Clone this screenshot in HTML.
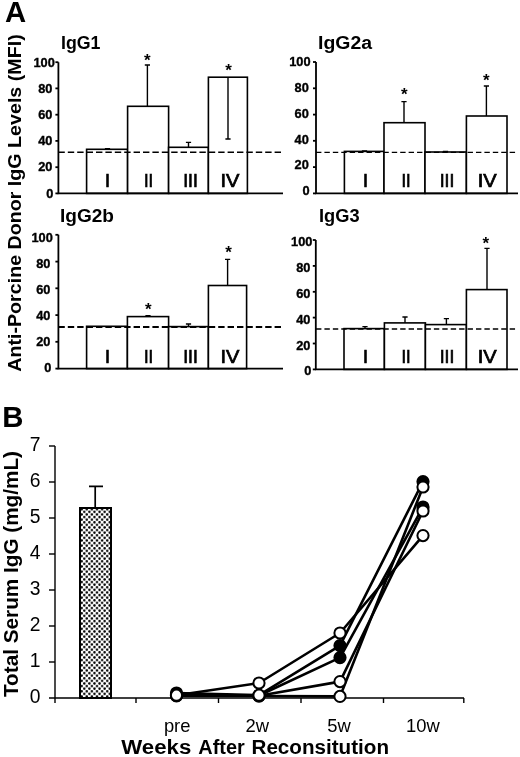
<!DOCTYPE html>
<html><head><meta charset="utf-8"><title>Figure</title>
<style>
html,body{margin:0;padding:0;background:#fff;}
body{width:520px;height:757px;overflow:hidden;}
svg{display:block;}
text{font-family:"Liberation Sans",sans-serif;fill:#000;}
.b{font-weight:bold;}
.rn{stroke:#000;stroke-width:0.7;}
.ax{stroke:#000;stroke-width:1.8;fill:none;}
.axb{stroke:#000;stroke-width:1.4;fill:none;}
.bar{stroke:#000;stroke-width:1.6;fill:#fff;}
.err{stroke:#000;stroke-width:1.4;fill:none;}
.dash{stroke:#000;stroke-width:1.4;stroke-dasharray:5.4 3.2;fill:none;}
.ln{stroke:#000;stroke-width:2.6;fill:none;stroke-linejoin:round;}
.oc{stroke:#000;stroke-width:2;fill:#fff;}
.fc{stroke:#000;stroke-width:2;fill:#000;}
</style></head><body>
<svg width="520" height="757" viewBox="0 0 520 757">
<defs>
<pattern id="dots" width="5.1" height="5.2" patternUnits="userSpaceOnUse" x="80.4" y="508">
<rect width="5.1" height="5.2" fill="#fff"/>
<circle cx="1.3" cy="1.3" r="1.22" fill="#000"/>
<circle cx="3.85" cy="3.9" r="1.22" fill="#000"/>
</pattern>
</defs>
<rect width="520" height="757" fill="#fff"/>

<text class="b" x="5" y="22" font-size="29.3">A</text>
<text class="b" x="2.2" y="427" font-size="29.3">B</text>
<text class="b" transform="translate(21.4,371.8) rotate(-90)" font-size="18" textLength="337.5" lengthAdjust="spacingAndGlyphs">Anti-Porcine Donor IgG Levels (MFI)</text>
<text class="b" x="61" y="49" font-size="18" textLength="39.5" lengthAdjust="spacingAndGlyphs">IgG1</text>
<rect class="bar" x="86.6" y="149.3" width="41.0" height="44.1"/>
<rect class="bar" x="127.6" y="106.3" width="41.0" height="87.1"/>
<rect class="bar" x="168.6" y="147.3" width="39.8" height="46.1"/>
<rect class="bar" x="208.4" y="77.2" width="39.0" height="116.2"/>
<path class="dash" style="stroke-width:1.6;stroke-dasharray:6.4 3" d="M58.4 152.3H284"/>
<path class="err" d="M107.5 149.3V148.6M104.9 148.6H110.1"/>
<text class="rn" x="107.4" y="187" font-size="18" text-anchor="middle">I</text>
<path class="err" d="M147.4 106.3V65M144.8 65H150.0"/>
<text class="b" x="147.4" y="65.8" font-size="17" text-anchor="middle">*</text>
<text class="rn" x="148.5" y="187" font-size="18" text-anchor="middle" textLength="9.2" lengthAdjust="spacingAndGlyphs">II</text>
<path class="err" d="M188.5 147.3V142.4M185.9 142.4H191.1"/>
<text class="rn" x="190.5" y="187" font-size="18" text-anchor="middle" textLength="14.6" lengthAdjust="spacingAndGlyphs">III</text>
<path class="err" d="M228 77.2V139M225.4 139H230.6"/>
<text class="b" x="228.6" y="76.2" font-size="17" text-anchor="middle">*</text>
<text class="rn" x="230" y="187" font-size="18" text-anchor="middle" textLength="19" lengthAdjust="spacingAndGlyphs">IV</text>
<path class="ax" d="M58.4 62.2V193.4H283"/>
<path class="ax" d="M55.4 193.4H58.4"/>
<text class="b" x="53.3" y="197.6" font-size="12.8" text-anchor="end" stroke="#000" stroke-width="0.35">0</text>
<path class="ax" d="M55.4 167.2H58.4"/>
<text class="b" x="52.4" y="171.4" font-size="12.8" text-anchor="end" stroke="#000" stroke-width="0.35">20</text>
<path class="ax" d="M55.4 140.9H58.4"/>
<text class="b" x="52.4" y="145.3" font-size="12.8" text-anchor="end" stroke="#000" stroke-width="0.35">40</text>
<path class="ax" d="M55.4 114.7H58.4"/>
<text class="b" x="52.4" y="119.1" font-size="12.8" text-anchor="end" stroke="#000" stroke-width="0.35">60</text>
<path class="ax" d="M55.4 88.4H58.4"/>
<text class="b" x="52.4" y="93.0" font-size="12.8" text-anchor="end" stroke="#000" stroke-width="0.35">80</text>
<path class="ax" d="M55.4 62.2H58.4"/>
<text class="b" x="54.8" y="66.8" font-size="12.8" text-anchor="end" stroke="#000" stroke-width="0.35">100</text>
<text class="b" x="318" y="49" font-size="18" textLength="54" lengthAdjust="spacingAndGlyphs">IgG2a</text>
<rect class="bar" x="344.4" y="151.4" width="39.6" height="42.0"/>
<rect class="bar" x="384" y="122.7" width="41.0" height="70.7"/>
<rect class="bar" x="425" y="152.0" width="41.4" height="41.4"/>
<rect class="bar" x="466.4" y="116.0" width="40.6" height="77.4"/>
<path class="dash" style="stroke-width:1.4;stroke-dasharray:5.4 3.02" d="M316 152.4H518"/>
<path class="err" d="M364.5 151.4V151M361.9 151H367.1"/>
<text class="rn" x="365.6" y="187" font-size="18" text-anchor="middle">I</text>
<path class="err" d="M404 122.7V101.6M401.4 101.6H406.6"/>
<text class="b" x="404.4" y="100.2" font-size="17" text-anchor="middle">*</text>
<text class="rn" x="406" y="187" font-size="18" text-anchor="middle" textLength="9.2" lengthAdjust="spacingAndGlyphs">II</text>
<path class="err" d="M445.5 152.0V151.5M442.9 151.5H448.1"/>
<text class="rn" x="447" y="187" font-size="18" text-anchor="middle" textLength="14.6" lengthAdjust="spacingAndGlyphs">III</text>
<path class="err" d="M486.4 116.0V86M483.79999999999995 86H489.0"/>
<text class="b" x="486.4" y="85.8" font-size="17" text-anchor="middle">*</text>
<text class="rn" x="487.2" y="187" font-size="18" text-anchor="middle" textLength="19" lengthAdjust="spacingAndGlyphs">IV</text>
<path class="ax" d="M316 62V193.4H518"/>
<path class="ax" d="M313 193.4H316"/>
<text class="b" x="309.7" y="195.2" font-size="12.8" text-anchor="end" stroke="#000" stroke-width="0.35">0</text>
<path class="ax" d="M313 167.1H316"/>
<text class="b" x="308.8" y="169.4" font-size="12.8" text-anchor="end" stroke="#000" stroke-width="0.35">20</text>
<path class="ax" d="M313 140.8H316"/>
<text class="b" x="308.8" y="143.6" font-size="12.8" text-anchor="end" stroke="#000" stroke-width="0.35">40</text>
<path class="ax" d="M313 114.6H316"/>
<text class="b" x="308.8" y="117.9" font-size="12.8" text-anchor="end" stroke="#000" stroke-width="0.35">60</text>
<path class="ax" d="M313 88.3H316"/>
<text class="b" x="308.8" y="92.1" font-size="12.8" text-anchor="end" stroke="#000" stroke-width="0.35">80</text>
<path class="ax" d="M313 62.0H316"/>
<text class="b" x="310.6" y="66.3" font-size="12.8" text-anchor="end" stroke="#000" stroke-width="0.35">100</text>
<text class="b" x="60" y="222" font-size="18" textLength="54" lengthAdjust="spacingAndGlyphs">IgG2b</text>
<rect class="bar" x="86.6" y="326.3" width="40.8" height="42.3"/>
<rect class="bar" x="127.4" y="316.6" width="41.2" height="52.0"/>
<rect class="bar" x="168.6" y="326.6" width="39.8" height="42.0"/>
<rect class="bar" x="208.4" y="285.5" width="38.2" height="83.1"/>
<path class="dash" style="stroke-width:2.0;stroke-dasharray:6.4 3" d="M58.4 327.0H284"/>
<text class="rn" x="107.4" y="363" font-size="18" text-anchor="middle">I</text>
<path class="err" d="M148 316.6V315.6M145.4 315.6H150.6"/>
<text class="b" x="148.4" y="315.2" font-size="17" text-anchor="middle">*</text>
<text class="rn" x="148.5" y="363" font-size="18" text-anchor="middle" textLength="9.2" lengthAdjust="spacingAndGlyphs">II</text>
<path class="err" d="M188.5 326.6V324M185.9 324H191.1"/>
<text class="rn" x="190.5" y="363" font-size="18" text-anchor="middle" textLength="14.6" lengthAdjust="spacingAndGlyphs">III</text>
<path class="err" d="M227.6 285.5V259.4M225.0 259.4H230.2"/>
<text class="b" x="228.6" y="258.2" font-size="17" text-anchor="middle">*</text>
<text class="rn" x="230" y="363" font-size="18" text-anchor="middle" textLength="19" lengthAdjust="spacingAndGlyphs">IV</text>
<path class="ax" d="M58.4 234.8V368.6H283"/>
<path class="ax" d="M55.4 368.6H58.4"/>
<text class="b" x="51.3" y="371.6" font-size="12.8" text-anchor="end" stroke="#000" stroke-width="0.35">0</text>
<path class="ax" d="M55.4 341.8H58.4"/>
<text class="b" x="50.4" y="345.6" font-size="12.8" text-anchor="end" stroke="#000" stroke-width="0.35">20</text>
<path class="ax" d="M55.4 315.1H58.4"/>
<text class="b" x="50.4" y="319.7" font-size="12.8" text-anchor="end" stroke="#000" stroke-width="0.35">40</text>
<path class="ax" d="M55.4 288.3H58.4"/>
<text class="b" x="50.4" y="293.7" font-size="12.8" text-anchor="end" stroke="#000" stroke-width="0.35">60</text>
<path class="ax" d="M55.4 261.6H58.4"/>
<text class="b" x="50.4" y="267.8" font-size="12.8" text-anchor="end" stroke="#000" stroke-width="0.35">80</text>
<path class="ax" d="M55.4 234.8H58.4"/>
<text class="b" x="52.8" y="241.8" font-size="12.8" text-anchor="end" stroke="#000" stroke-width="0.35">100</text>
<text class="b" x="319" y="222" font-size="18" textLength="40.6" lengthAdjust="spacingAndGlyphs">IgG3</text>
<rect class="bar" x="344" y="328.6" width="40.4" height="40.8"/>
<rect class="bar" x="384.4" y="322.9" width="41.0" height="46.5"/>
<rect class="bar" x="425.4" y="324.6" width="41.0" height="44.8"/>
<rect class="bar" x="466.4" y="289.6" width="40.6" height="79.8"/>
<path class="dash" style="stroke-width:1.6;stroke-dasharray:5.4 3.02" d="M316 329.0H518"/>
<path class="err" d="M365 328.6V326.6M362.4 326.6H367.6"/>
<text class="rn" x="365.4" y="363" font-size="18" text-anchor="middle">I</text>
<path class="err" d="M405 322.9V317M402.4 317H407.6"/>
<text class="rn" x="406" y="363" font-size="18" text-anchor="middle" textLength="9.2" lengthAdjust="spacingAndGlyphs">II</text>
<path class="err" d="M446.4 324.6V318.6M443.79999999999995 318.6H449.0"/>
<text class="rn" x="447" y="363" font-size="18" text-anchor="middle" textLength="14.6" lengthAdjust="spacingAndGlyphs">III</text>
<path class="err" d="M487 289.6V248.4M484.4 248.4H489.6"/>
<text class="b" x="485.8" y="249.2" font-size="17" text-anchor="middle">*</text>
<text class="rn" x="487.2" y="363" font-size="18" text-anchor="middle" textLength="19" lengthAdjust="spacingAndGlyphs">IV</text>
<path class="ax" d="M315.8 240V369.4H518"/>
<path class="ax" d="M312.8 369.4H315.8"/>
<text class="b" x="311.29999999999995" y="375.4" font-size="12.8" text-anchor="end" stroke="#000" stroke-width="0.35">0</text>
<path class="ax" d="M312.8 343.5H315.8"/>
<text class="b" x="310.4" y="349.6" font-size="12.8" text-anchor="end" stroke="#000" stroke-width="0.35">20</text>
<path class="ax" d="M312.8 317.6H315.8"/>
<text class="b" x="310.4" y="323.8" font-size="12.8" text-anchor="end" stroke="#000" stroke-width="0.35">40</text>
<path class="ax" d="M312.8 291.8H315.8"/>
<text class="b" x="310.4" y="298.0" font-size="12.8" text-anchor="end" stroke="#000" stroke-width="0.35">60</text>
<path class="ax" d="M312.8 265.9H315.8"/>
<text class="b" x="310.4" y="272.2" font-size="12.8" text-anchor="end" stroke="#000" stroke-width="0.35">80</text>
<path class="ax" d="M312.8 240.0H315.8"/>
<text class="b" x="312.4" y="246.4" font-size="12.8" text-anchor="end" stroke="#000" stroke-width="0.35">100</text>
<text class="b" transform="translate(18.4,697) rotate(-90)" font-size="20" textLength="246" lengthAdjust="spacingAndGlyphs">Total Serum IgG (mg/mL)</text>
<rect x="80" y="508" width="31" height="190" fill="url(#dots)" stroke="#000" stroke-width="2"/>
<path d="M95.2 507V486.4M89 486.4H103" stroke="#000" stroke-width="1.7" fill="none"/>
<path class="axb" d="M55 446.0V703M49 698H464"/>
<text x="40.4" y="703.3" font-size="19.3" text-anchor="end">0</text>
<path class="axb" d="M49 662.0H55"/>
<text x="40.4" y="667.3" font-size="19.3" text-anchor="end">1</text>
<path class="axb" d="M49 626.0H55"/>
<text x="40.4" y="631.3" font-size="19.3" text-anchor="end">2</text>
<path class="axb" d="M49 590.0H55"/>
<text x="40.4" y="595.3" font-size="19.3" text-anchor="end">3</text>
<path class="axb" d="M49 554.0H55"/>
<text x="40.4" y="559.3" font-size="19.3" text-anchor="end">4</text>
<path class="axb" d="M49 518.0H55"/>
<text x="40.4" y="523.3" font-size="19.3" text-anchor="end">5</text>
<path class="axb" d="M49 482.0H55"/>
<text x="40.4" y="487.3" font-size="19.3" text-anchor="end">6</text>
<path class="axb" d="M49 446.0H55"/>
<text x="40.4" y="451.3" font-size="19.3" text-anchor="end">7</text>
<path class="axb" d="M136 698V703"/>
<path class="axb" d="M218.5 698V703"/>
<path class="axb" d="M301 698V703"/>
<path class="axb" d="M383.5 698V703"/>
<path class="axb" d="M463.8 698V703"/>
<polyline class="ln" points="176.5,695.2 259,683.0 340,633.0 423,535.6"/>
<polyline class="ln" points="176.5,693.0 259,695.2 340,645.6 423,481.6"/>
<polyline class="ln" points="176.5,694.5 259,695.5 340,657.6 423,507.0"/>
<polyline class="ln" points="176.5,695.5 259,695.8 340,681.6 423,511.0"/>
<polyline class="ln" points="176.5,695.8 259,696.0 340,696.4 423,487.0"/>
<circle class="fc" cx="176.5" cy="693.0" r="5.6"/>
<circle class="fc" cx="340" cy="645.6" r="5.6"/>
<circle class="fc" cx="423" cy="481.6" r="5.6"/>
<circle class="fc" cx="176.5" cy="694.5" r="5.6"/>
<circle class="fc" cx="340" cy="657.6" r="5.6"/>
<circle class="fc" cx="423" cy="507.0" r="5.6"/>
<circle class="oc" cx="176.5" cy="695.8" r="5.6"/>
<circle class="oc" cx="259" cy="696.0" r="5.6"/>
<circle class="oc" cx="340" cy="696.4" r="5.6"/>
<circle class="oc" cx="423" cy="487.0" r="5.6"/>
<circle class="oc" cx="176.5" cy="695.5" r="5.6"/>
<circle class="oc" cx="259" cy="695.8" r="5.6"/>
<circle class="oc" cx="340" cy="681.6" r="5.6"/>
<circle class="oc" cx="423" cy="511.0" r="5.6"/>
<circle class="oc" cx="259" cy="695.5" r="5.6"/>
<circle class="oc" cx="259" cy="695.2" r="5.6"/>
<circle class="oc" cx="176.5" cy="695.2" r="5.6"/>
<circle class="oc" cx="259" cy="683.0" r="5.6"/>
<circle class="oc" cx="340" cy="633.0" r="5.6"/>
<circle class="oc" cx="423" cy="535.6" r="5.6"/>
<text x="177.2" y="732.4" font-size="18.4" text-anchor="middle">pre</text>
<text x="257.2" y="732.4" font-size="18.4" text-anchor="middle">2w</text>
<text x="339" y="732.4" font-size="18.4" text-anchor="middle">5w</text>
<text x="422.8" y="732.4" font-size="18.4" text-anchor="middle">10w</text>
<text class="b" y="753.6" font-size="19.4"><tspan x="121.3" textLength="70" lengthAdjust="spacingAndGlyphs">Weeks</tspan> <tspan x="198.3" textLength="46.5" lengthAdjust="spacingAndGlyphs">After</tspan> <tspan x="251.5" textLength="137.5" lengthAdjust="spacingAndGlyphs">Reconsitution</tspan></text>
</svg></body></html>
